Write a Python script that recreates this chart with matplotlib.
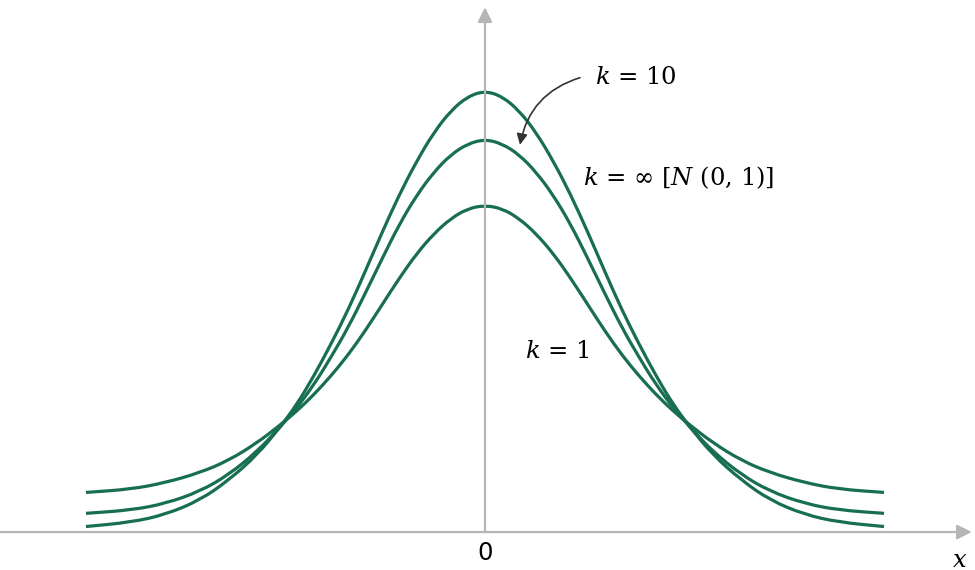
import numpy as np
import matplotlib
matplotlib.use('Agg')
import matplotlib.pyplot as plt
from matplotlib.path import Path
from matplotlib.patches import PathPatch

plt.rcParams['font.family'] = ['DejaVu Serif']
plt.rcParams['mathtext.fontset'] = 'dejavuserif'

# right half of each (symmetric) curve
x_half = [0, 0.15, 0.3, 0.45, 0.6, 0.75, 0.9, 1.05, 1.2, 1.35, 1.5, 1.65,
          1.8, 2.0, 2.25, 2.5, 2.8, 3.1, 3.5]
y_inf = [.401, .396, .383, .363, .337, .307, .273, .237, .202, .171, .142,
         .116, .095, .070, .047, .029, .016, .009, .005]
y_k10 = [.357, .353, .343, .327, .306, .280, .249, .217, .186, .159, .134,
         .113, .095, .073, .052, .037, .026, .020, .017]
y_k1 = [.297, .294, .285, .271, .253, .231, .207, .183, .161, .142, .125,
        .110, .097, .081, .065, .054, .045, .039, .036]


def mirror(xh, yh):
    xh = np.asarray(xh)
    yh = np.asarray(yh)
    xx = np.concatenate([-xh[::-1], xh[1:]])
    yy = np.concatenate([yh[::-1], yh[1:]])
    return xx, yy


def smooth_path(xx, yy):
    # quadratic bezier through the midpoints, the read points as controls
    pts = np.column_stack([xx, yy])
    mids = (pts[:-1] + pts[1:]) / 2
    verts = [pts[0], mids[0]]
    codes = [Path.MOVETO, Path.LINETO]
    for i in range(1, len(pts) - 1):
        verts += [pts[i], mids[i]]
        codes += [Path.CURVE3, Path.CURVE3]
    verts.append(pts[-1])
    codes.append(Path.LINETO)
    return Path(verts, codes)


green = '#176e52'
grey = '#b5b5b5'

fig = plt.figure(figsize=(9.75, 5.7), dpi=100)
ax = fig.add_axes([0, 0, 1, 1])
ax.set_xlim(-4.254, 4.298)
ax.set_ylim(-0.0345, 0.4836)
ax.axis('off')

# axes with arrow heads
ax.annotate('', xy=(4.27, 0), xytext=(-4.3, 0),
            arrowprops=dict(arrowstyle='-|>', color=grey, lw=1.6,
                            mutation_scale=22, shrinkA=0, shrinkB=0))
ax.annotate('', xy=(0, 0.477), xytext=(0, 0),
            arrowprops=dict(arrowstyle='-|>', color=grey, lw=1.6,
                            mutation_scale=22, shrinkA=0, shrinkB=0))

for yh in (y_inf, y_k10, y_k1):
    xx, yy = mirror(x_half, yh)
    ax.add_patch(PathPatch(smooth_path(xx, yy), fill=False,
                           edgecolor=green, lw=2.3, capstyle='butt'))

fs = 17.5
ax.text(0.965, 0.413, r'$k$ = 10', fontsize=fs, ha='left', va='center')
ax.text(0.86, 0.322, r'$k$ = $\infty$ [$N$ (0, 1)]', fontsize=fs,
        ha='left', va='center')
ax.text(0.351, 0.164, r'$k$ = 1', fontsize=fs, ha='left', va='center')
ax.text(0, -0.019, '0', fontsize=fs, ha='center', va='center',
        family='DejaVu Sans')
ax.text(4.167, -0.0255, r'$x$', fontsize=fs, ha='center', va='center')

ax.annotate('', xy=(0.307, 0.352), xytext=(0.833, 0.413),
            arrowprops=dict(arrowstyle='-|>', color='#333333', lw=1.2,
                            connectionstyle='arc3,rad=0.3',
                            mutation_scale=16, shrinkA=0, shrinkB=0))

fig.savefig('out.png', dpi=100)
